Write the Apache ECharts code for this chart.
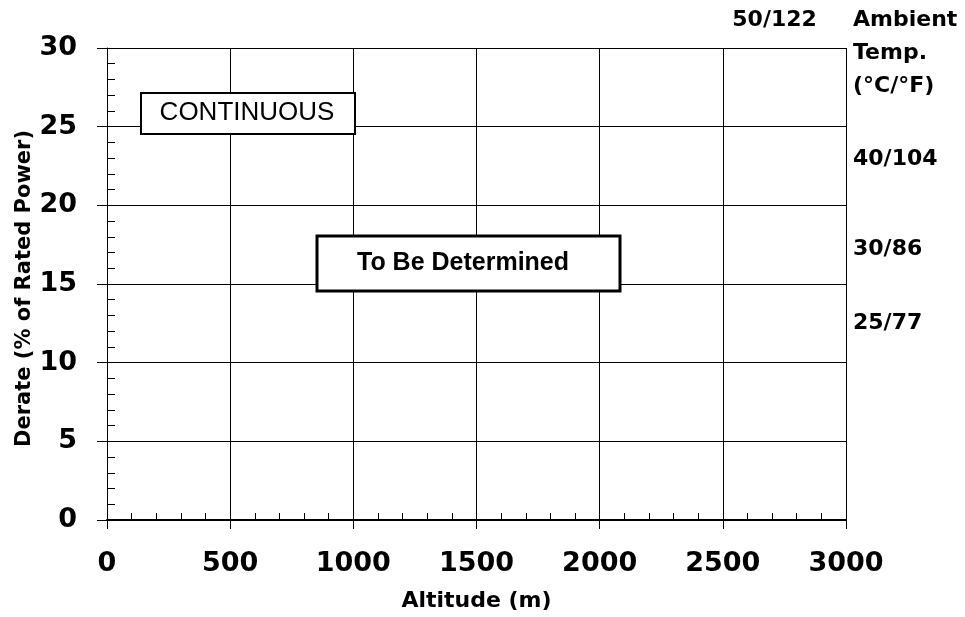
<!DOCTYPE html>
<html>
<head>
<meta charset="utf-8">
<title>Derate vs Altitude</title>
<script src="https://cdn.jsdelivr.net/npm/echarts@6/dist/echarts.min.js"></script>
<style>
  html, body { margin: 0; padding: 0; background: #fff; }
  #main { width: 965px; height: 617px; }
</style>
</head>
<body>
<div id="main"></div>
<script>
// Axes (altitude in m, derate in % of rated power)
const altitudeRange = [0, 3000];
const altitudeStep = 500;
const derateRange = [0, 30];
const derateStep = 5;

// Ambient temperature labels (°C/°F) and the derate level where each one sits
const tempLabels = ['50/122', '40/104', '30/86', '25/77'];
const tempDerate = [31.75, 22.9, 17.2, 12.5];

// Derate curve: still "to be determined", nothing to plot
const derateCurve = [];

const FONT = 'DejaVu Sans';

const dom = document.getElementById('main');
const chart = echarts.init(dom, null, { renderer: 'canvas' });

chart.setOption({
    animation: false,
    backgroundColor: '#fff',
    grid: { left: 107, right: 119, top: 48, bottom: 97 },
    xAxis: {
        type: 'value',
        min: altitudeRange[0],
        max: altitudeRange[1],
        interval: altitudeStep,
        name: 'Altitude (m)',
        nameLocation: 'middle',
        nameGap: 70,
        nameMoveOverlap: false,
        nameTextStyle: { fontFamily: FONT, fontWeight: 'bold', fontSize: 22, color: '#000' },
        axisLine: { show: true, lineStyle: { color: '#000', width: 2 } },
        axisTick: { show: true, length: 9, lineStyle: { color: '#000' } },
        minorTick: { show: true, splitNumber: 5, length: -7, lineStyle: { color: '#000' } },
        splitLine: { show: true, lineStyle: { color: '#000', width: 1 } },
        axisLabel: {
            fontFamily: FONT, fontWeight: 'bold', fontSize: 27, color: '#000', margin: 30,
            formatter: v => String(v)
        }
    },
    yAxis: {
        type: 'value',
        min: derateRange[0],
        max: derateRange[1],
        interval: derateStep,
        name: 'Derate (% of Rated Power)',
        nameLocation: 'middle',
        nameRotate: 90,
        nameGap: 72,
        nameMoveOverlap: false,
        nameTextStyle: { fontFamily: FONT, fontWeight: 'bold', fontSize: 21, color: '#000', padding: [0, 9, 0, 0] },
        axisLine: { show: true, lineStyle: { color: '#000', width: 1 } },
        axisTick: { show: true, length: 10, lineStyle: { color: '#000' } },
        minorTick: { show: true, splitNumber: 5, length: -8, lineStyle: { color: '#000' } },
        splitLine: { show: true, lineStyle: { color: '#000', width: 1 } },
        axisLabel: { fontFamily: FONT, fontWeight: 'bold', fontSize: 27, color: '#000', margin: 30 }
    },
    series: [
        {
            name: 'Derate',
            type: 'line',
            data: derateCurve,
            showSymbol: false,
            lineStyle: { color: '#000', width: 2 }
        }
    ]
});

// --- Annotations: boxes, ambient temp legend ---

const right = chart.convertToPixel({ gridIndex: 0 }, [altitudeRange[1], 0])[0];
const tempText = tempLabels.map((label, i) => {
    // the first (hottest) label sits above the last column, the others to the right of the plot
    const first = i === 0;
    const p = chart.convertToPixel({ gridIndex: 0 }, [first ? 2710 : altitudeRange[1], tempDerate[i]]);
    return {
        type: 'text',
        x: first ? p[0] : right + 7,
        y: p[1],
        style: {
            text: label,
            fontFamily: FONT,
            fontWeight: 'bold',
            fontSize: 22,
            fill: '#000',
            align: first ? 'center' : 'left',
            verticalAlign: 'middle'
        }
    };
});

chart.setOption({
    graphic: [
        {
            type: 'rect',
            shape: { x: 141, y: 93, width: 214, height: 41 },
            style: { fill: '#fff', stroke: '#000', lineWidth: 2 },
            z: 10
        },
        {
            type: 'text',
            x: 247,
            y: 113,
            style: {
                text: 'CONTINUOUS',
                fontFamily: 'Liberation Sans',
                fontSize: 26,
                fill: '#000',
                align: 'center',
                verticalAlign: 'middle'
            },
            z: 11
        },
        {
            type: 'rect',
            shape: { x: 317, y: 236, width: 303, height: 55 },
            style: { fill: '#fff', stroke: '#000', lineWidth: 3 },
            z: 10
        },
        {
            type: 'text',
            x: 463,
            y: 263,
            style: {
                text: 'To Be Determined',
                fontFamily: 'Liberation Sans',
                fontWeight: 'bold',
                fontSize: 25,
                fill: '#000',
                align: 'center',
                verticalAlign: 'middle'
            },
            z: 11
        },
        {
            type: 'text',
            x: right + 7,
            y: 4,
            style: {
                text: 'Ambient\nTemp.\n(°C/°F)',
                fontFamily: FONT,
                fontWeight: 'bold',
                fontSize: 22,
                lineHeight: 33,
                fill: '#000',
                align: 'left',
                verticalAlign: 'top'
            }
        }
    ].concat(tempText)
});

window.addEventListener('resize', function () {
    chart.resize();
});
</script>
</body>
</html>
